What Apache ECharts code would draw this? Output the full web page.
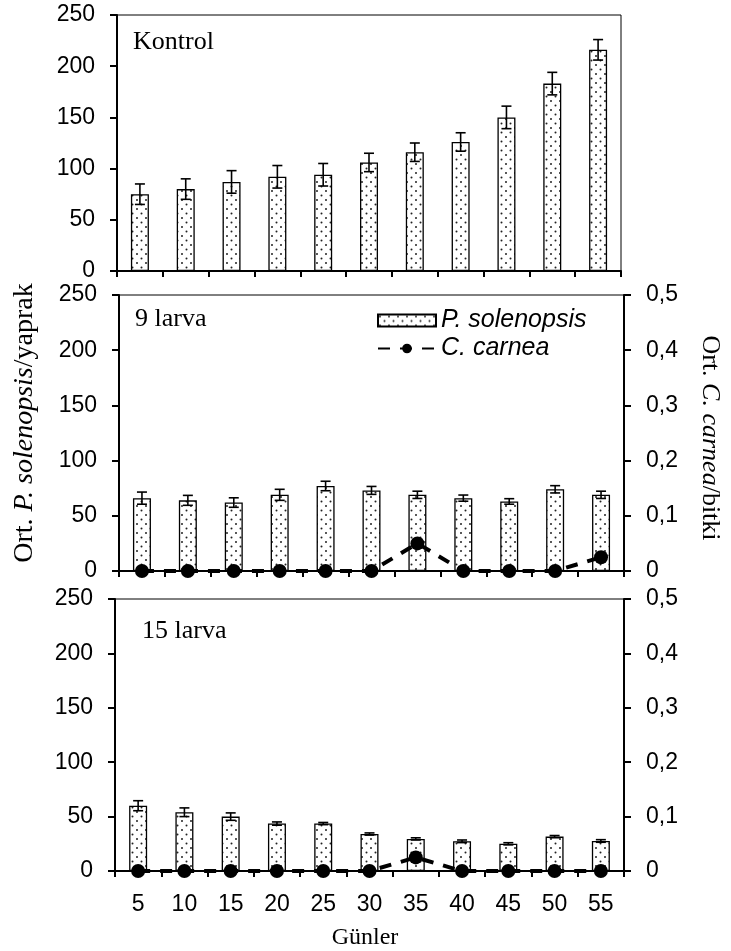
<!DOCTYPE html>
<html>
<head>
<meta charset="utf-8">
<script src="https://cdn.jsdelivr.net/npm/echarts@6/dist/echarts.min.js"></script>
<style>
  html, body { margin: 0; padding: 0; background: #fff; }
  #chart { width: 731px; height: 951px; }
</style>
</head>
<body>
<div id="chart"></div>
<script>
// gün (x ekseni)
var days = ["5", "10", "15", "20", "25", "30", "35", "40", "45", "50", "55"];

// P. solenopsis ortalama ve hata değerleri
var kontrolMean = [75, 80, 87, 92, 94, 106, 116, 126, 150, 183, 216];
var kontrolErr = [10, 10, 11, 11, 11, 9, 9, 9, 11, 11, 10];
var larva9Mean = [66, 64, 62, 69, 77, 73, 69, 66, 63, 74, 69];
var larva9Err = [5.5, 4.5, 4.3, 5, 4.3, 3.6, 3.3, 2.8, 2.5, 3.3, 3.3];
var larva15Mean = [60, 54, 50, 43.6, 43.6, 34, 29.5, 27.3, 25, 31.6, 27.6];
var larva15Err = [4.6, 4, 3.4, 1.5, 1, 1, 1, 1.2, 1, 1, 1.2];

// C. carnea / bitki
var carnea9 = [0, 0, 0, 0, 0, 0, 0.05, 0, 0, 0, 0.025];
var carnea15 = [0, 0, 0, 0, 0, 0, 0.025, 0, 0, 0, 0];

var panelNames = ["Kontrol", "9 larva", "15 larva"];

var sans = "'Liberation Sans', Arial, sans-serif";
var serif = "'Liberation Serif', 'Times New Roman', serif";

// noktalı dolgu deseni
function dotPattern() {
  var c = document.createElement("canvas");
  c.width = 9;
  c.height = 9;
  var ctx = c.getContext("2d");
  ctx.fillStyle = "#fff";
  ctx.fillRect(0, 0, 9, 9);
  ctx.fillStyle = "#222";
  ctx.beginPath();
  ctx.arc(2, 2, 1, 0, Math.PI * 2);
  ctx.arc(6.5, 6.5, 1, 0, Math.PI * 2);
  ctx.fill();
  return c;
}
var dots = { image: dotPattern(), repeat: "repeat" };

function errData(mean, err) {
  return mean.map(function (v, i) {
    return [i, v + err[i], v - err[i]];
  });
}

function renderErr(params, api) {
  var x = api.value(0);
  var hi = api.coord([x, api.value(1)]);
  var lo = api.coord([x, api.value(2)]);
  var w = 5;
  var st = { stroke: "#000", lineWidth: 1.6 };
  return {
    type: "group",
    children: [
      { type: "line", shape: { x1: hi[0], y1: hi[1], x2: lo[0], y2: lo[1] }, style: st },
      { type: "line", shape: { x1: hi[0] - w, y1: hi[1], x2: hi[0] + w, y2: hi[1] }, style: st },
      { type: "line", shape: { x1: lo[0] - w, y1: lo[1], x2: lo[0] + w, y2: lo[1] }, style: st },
    ],
  };
}

var grids = [
  { left: 117, right: 110, top: 15, height: 256 },
  { left: 119, right: 107, top: 295, height: 276 },
  { left: 115, right: 107, top: 599, height: 272 },
];
grids.forEach(function (g) {
  g.show = true;
  g.borderColor = "#000";
  g.borderWidth = 1;
  g.backgroundColor = "transparent";
});

var axisLine = { show: true, lineStyle: { color: "#000", width: 2 } };

var xAxis = grids.map(function (g, i) {
  return {
    type: "category",
    gridIndex: i,
    data: days,
    axisLine: axisLine,
    axisTick: { show: true, length: 6, lineStyle: { color: "#000", width: 2 } },
    axisLabel: {
      show: i === 2,
      color: "#000",
      fontFamily: sans,
      fontSize: 23,
      margin: 22,
    },
    splitLine: { show: false },
  };
});

var yAxis = [];
grids.forEach(function (g, i) {
  yAxis.push({
    type: "value",
    gridIndex: i,
    min: 0,
    max: 250,
    interval: 50,
    axisLine: axisLine,
    axisTick: { show: true, length: 7, lineStyle: { color: "#000", width: 2 } },
    axisLabel: { color: "#000", fontFamily: sans, fontSize: 23, margin: 22 },
    splitLine: { show: false },
  });
});
[1, 2].forEach(function (i) {
  yAxis.push({
    type: "value",
    gridIndex: i,
    position: "right",
    min: 0,
    max: 0.5,
    interval: 0.1,
    axisLine: axisLine,
    axisTick: { show: true, length: 7, lineStyle: { color: "#000", width: 2 } },
    axisLabel: {
      color: "#000",
      fontFamily: sans,
      fontSize: 23,
      margin: 22,
      formatter: function (v) {
        return v === 0 ? "0" : v.toFixed(1).replace(".", ",");
      },
    },
    splitLine: { show: false },
  });
});

var means = [kontrolMean, larva9Mean, larva15Mean];
var errs = [kontrolErr, larva9Err, larva15Err];
var series = [];
means.forEach(function (m, i) {
  series.push({
    name: "P. solenopsis",
    type: "bar",
    xAxisIndex: i,
    yAxisIndex: i,
    data: m,
    barWidth: 18,
    itemStyle: { color: dots, borderColor: "#000", borderWidth: 1.3 },
    z: 2,
  });
  series.push({
    type: "custom",
    xAxisIndex: i,
    yAxisIndex: i,
    renderItem: renderErr,
    data: errData(m, errs[i]),
    encode: { x: 0, y: [1, 2] },
    z: 3,
  });
});
[carnea9, carnea15].forEach(function (c, k) {
  series.push({
    name: "C. carnea",
    type: "line",
    xAxisIndex: k + 1,
    yAxisIndex: 3 + k,
    data: c,
    symbol: "circle",
    symbolSize: 14,
    clip: false,
    itemStyle: { color: "#000" },
    lineStyle: { color: "#000", width: 4, type: [12, 10] },
    z: 5,
  });
});

var graphic = [
  { x: 133, y: 42 },
  { x: 135, y: 319 },
  { x: 142, y: 631 },
].map(function (p, i) {
  return {
    type: "text",
    x: p.x,
    y: p.y,
    style: {
      text: panelNames[i],
      font: "26px " + serif,
      fill: "#000",
      verticalAlign: "middle",
    },
  };
});
graphic.push({
  type: "text",
  x: 25,
  y: 423,
  rotation: Math.PI / 2,
  style: {
    text: "{n|Ort. }{i|P. solenopsis}{n|/yaprak}",
    align: "center",
    verticalAlign: "middle",
    rich: {
      n: { fontFamily: serif, fontSize: 28, fill: "#000" },
      i: { fontFamily: serif, fontSize: 28, fontStyle: "italic", fill: "#000" },
    },
  },
});
graphic.push({
  type: "text",
  x: 710,
  y: 438,
  rotation: -Math.PI / 2,
  style: {
    text: "{n|Ort. }{i|C. carnea}{n|/bitki}",
    align: "center",
    verticalAlign: "middle",
    rich: {
      n: { fontFamily: serif, fontSize: 26, fill: "#000" },
      i: { fontFamily: serif, fontSize: 26, fontStyle: "italic", fill: "#000" },
    },
  },
});
graphic.push({
  type: "text",
  x: 365,
  y: 938,
  style: {
    text: "Günler",
    font: "24px " + serif,
    fill: "#000",
    align: "center",
    verticalAlign: "middle",
  },
});

var chart = echarts.init(document.getElementById("chart"));
chart.setOption({
  animation: false,
  backgroundColor: "#fff",
  grid: grids,
  xAxis: xAxis,
  yAxis: yAxis,
  legend: {
    orient: "vertical",
    left: 372,
    top: 303,
    itemWidth: 58,
    itemHeight: 12,
    itemGap: 3,
    data: [
      { name: "P. solenopsis", icon: "rect" },
      { name: "C. carnea" },
    ],
    textStyle: { fontFamily: sans, fontStyle: "italic", fontSize: 25, color: "#000" },
  },
  graphic: graphic,
  series: series,
});
</script>
</body>
</html>
